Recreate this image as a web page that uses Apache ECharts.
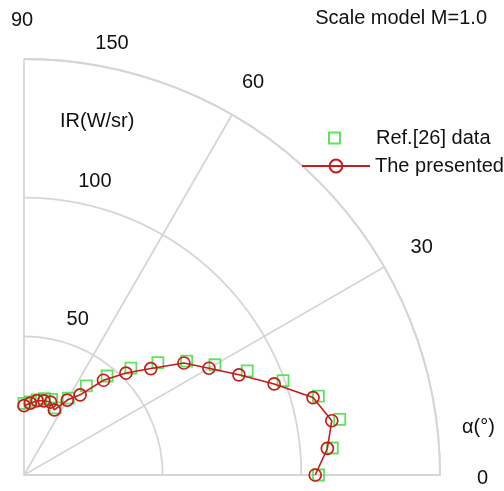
<!DOCTYPE html>
<html><head><meta charset="utf-8">
<script src="https://cdn.jsdelivr.net/npm/echarts@6/dist/echarts.min.js"></script>
<style>html,body{margin:0;padding:0;background:#fff}#c{width:504px;height:491px}</style>
</head><body><div id="c"></div>
<script>
// angles (degrees) of the samples
const angles = [0, 5, 10, 15, 20, 25, 30, 35, 40, 45, 50, 55, 60, 65, 70, 75, 80, 85, 90];
// Ref.[26] data radii (W/sr)
const refR = [106.2, 111.6, 115.6, 109.9, 99.4, 88.8, 79.5, 71.6, 63.0, 54.5, 46.6, 39.2, 32.0, 26.7, 29.0, 28.5, 27.5, 26.5, 25.8];
// The presented radii (W/sr)
const presR = [105.0, 109.8, 112.7, 107.9, 96.0, 85.5, 77.0, 70.4, 59.7, 52.0, 44.6, 35.3, 31.2, 25.9, 28.0, 27.7, 27.2, 26.0, 25.0];
const angleTicks = [0, 30, 60, 90];
const radiusTicks = [50, 100, 150];

const FONT = 'Liberation Sans, Arial, sans-serif';
const TXT = '#111';
const GRID = '#d6d6d6';
const GREEN = '#35dd35';
const RED = '#c81c1c';

const refData = angles.map((a, i) => [refR[i], a]);
const presData = angles.map((a, i) => [presR[i], a]);

const lbl = (pad) => ({padding: pad, fontFamily: FONT, fontSize: 20, color: TXT});

const chart = echarts.init(document.getElementById('c'), null, {renderer: 'canvas'});
chart.setOption({
  animation: false,
  backgroundColor: '#fff',
  textStyle: {fontFamily: FONT},
  title: [
    {text: 'Scale model M=1.0', right: 17, top: 8, padding: 0,
     textStyle: {fontFamily: FONT, fontSize: 20, fontWeight: 'normal', color: TXT}},
    {text: 'IR(W/sr)', left: 60, top: 111, padding: 0,
     textStyle: {fontFamily: FONT, fontSize: 20, fontWeight: 'normal', color: TXT}},
    {text: 'α(°)', left: 462, top: 417, padding: 0,
     textStyle: {fontFamily: FONT, fontSize: 20, fontWeight: 'normal', color: TXT}}
  ],
  legend: [
    {data: ['Ref.[26] data'], icon: 'rect',
     left: 328, top: 128, padding: 0, itemWidth: 11, itemHeight: 11,
     formatter: n => '{a|' + n + '}',
     textStyle: {fontFamily: FONT, fontSize: 20, color: TXT,
       rich: {a: {padding: [0, 0, 0, 31], fontFamily: FONT, fontSize: 20, color: TXT}}}},
    {data: ['The presented'],
     left: 301, top: 156, padding: 0, itemWidth: 68, itemHeight: 16,
     textStyle: {fontFamily: FONT, fontSize: 20, color: TXT}}
  ],
  polar: [
    {center: [24, 475], radius: 416},
    {center: [24, 475], radius: 439}
  ],
  angleAxis: [
    {polarIndex: 0, type: 'value', min: 0, max: 90, interval: 30,
     startAngle: 0, endAngle: 90, clockwise: false,
     axisLine: {show: true, lineStyle: {color: GRID, width: 1.8}},
     axisTick: {show: false},
     splitLine: {show: true, lineStyle: {color: GRID, width: 1.8}},
     axisLabel: {show: true, margin: 20, fontFamily: FONT, fontSize: 20, color: TXT,
       formatter: v => '{a' + v + '|' + v + '}',
       rich: {
         a0: lbl([6, 0, 0, 17]),
         a30: lbl([0, 0, 0, 9]),
         a60: lbl([0, 0, 5, 0]),
         a90: lbl([0, 4, 9, 0])
       }}},
    {polarIndex: 1, type: 'value', min: 0, max: 90, startAngle: 82.9, show: false}
  ],
  radiusAxis: [
    {polarIndex: 0, type: 'value', min: 0, max: 150, interval: 50,
     axisLine: {show: true, lineStyle: {color: GRID, width: 1.8}},
     axisTick: {show: false},
     axisLabel: {show: false},
     splitLine: {show: true, lineStyle: {color: GRID, width: 1.8}}},
    {polarIndex: 1, type: 'value', min: -8, max: 150,
     axisLine: {show: false}, axisTick: {show: false}, splitLine: {show: false},
     axisLabel: {show: true, customValues: radiusTicks, align: 'center', verticalAlign: 'middle',
       margin: -34, fontFamily: FONT, fontSize: 20, color: TXT}}
  ],
  series: [
    {name: 'Ref.[26] data', type: 'scatter', coordinateSystem: 'polar', polarIndex: 0,
     symbol: 'rect', symbolSize: 11, data: refData,
     itemStyle: {color: 'rgba(0,0,0,0)', borderColor: GREEN, borderWidth: 1.8}},
    {name: 'The presented', type: 'line', coordinateSystem: 'polar', polarIndex: 0,
     symbol: 'circle', symbolSize: 12, data: presData,
     lineStyle: {color: RED, width: 1.6},
     itemStyle: {color: 'rgba(0,0,0,0)', borderColor: RED, borderWidth: 1.7}}
  ]
});
</script>
</body></html>
